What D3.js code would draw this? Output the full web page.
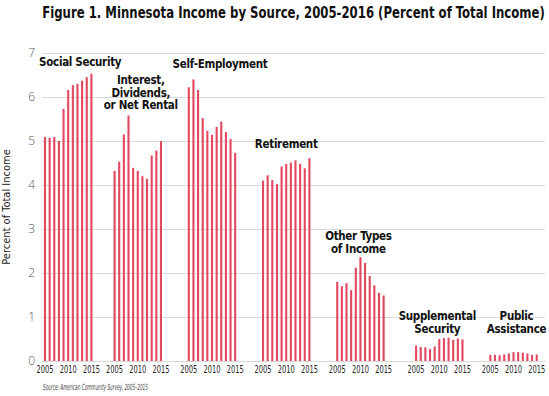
<!DOCTYPE html>
<html>
<head>
<meta charset="utf-8">
<script src="https://cdn.jsdelivr.net/npm/d3@7"></script>
<style>
  html, body { margin: 0; padding: 0; background: #fff; }
  svg { display: block; }
  .narrow { font-family: "Liberation Sans Narrow", "DejaVu Sans Condensed", "Arial Narrow", sans-serif; }
</style>
</head>
<body>
<svg id="chart" width="549" height="396"></svg>
<script>
// ---------------- DATA ----------------
const title = "Figure 1. Minnesota Income by Source, 2005-2016 (Percent of Total Income)";
const yAxisTitle = "Percent of Total Income";
const sourceNote = "Source: American Community Survey, 2005\u20132015";
const years = [2005, 2006, 2007, 2008, 2009, 2010, 2011, 2012, 2013, 2014, 2015];
const yearTickLabels = [2005, 2010, 2015];
const yTicks = [0, 1, 2, 3, 4, 5, 6, 7];
const categories = ["Social Security", "Interest, Dividends, or Net Rental", "Self-Employment",
  "Retirement", "Other Types of Income", "Supplemental Security", "Public Assistance"];
const categoryLabelLines = [["Social Security"], ["Interest,", "Dividends,", "or Net Rental"],
  ["Self-Employment"], ["Retirement"], ["Other Types", "of Income"],
  ["Supplemental", "Security"], ["Public", "Assistance"]];
const socialSecurity = [5.09, 5.07, 5.09, 5.00, 5.73, 6.16, 6.27, 6.30, 6.37, 6.45, 6.53];
const interestDividends = [4.32, 4.53, 5.15, 5.58, 4.39, 4.32, 4.20, 4.14, 4.67, 4.78, 5.00];
const selfEmployment = [6.22, 6.40, 6.16, 5.52, 5.23, 5.14, 5.32, 5.44, 5.20, 5.05, 4.73];
const retirement = [4.10, 4.22, 4.11, 4.02, 4.42, 4.48, 4.51, 4.56, 4.48, 4.38, 4.61];
const otherTypes = [1.80, 1.70, 1.77, 1.61, 2.12, 2.36, 2.23, 1.93, 1.72, 1.55, 1.49];
const supplementalSecurity = [0.35, 0.32, 0.31, 0.27, 0.33, 0.50, 0.52, 0.53, 0.48, 0.51, 0.49];
const publicAssistance = [0.14, 0.14, 0.13, 0.15, 0.17, 0.20, 0.20, 0.19, 0.17, 0.14, 0.15];
const seriesValues = [socialSecurity, interestDividends, selfEmployment, retirement,
  otherTypes, supplementalSecurity, publicAssistance];

// ---------------- LAYOUT ----------------
const barColor = "#e2485f";
const startStep = [0, 15, 16, 16, 16, 17, 16];   // slot distance between group starts
const groupStart = [];
startStep.reduce((acc, s) => { const v = acc + s; groupStart.push(v); return v; }, 0);
const totalSlots = groupStart[groupStart.length - 1] + years.length - 1;

const labelLayout = [ // dx from group centre (px), first-line baseline (value units)
  { dx: 12, v: 6.70 }, { dx: 3, v: 6.29 }, { dx: 8, v: 6.65 }, { dx: 0, v: 4.83 },
  { dx: -2, v: 2.74 }, { dx: -2, v: 0.925 }, { dx: 3, v: 0.925 }
];

const x = d3.scaleLinear().domain([0, totalSlots]).range([45, 536.7]);
const y = d3.scaleLinear().domain([0, 7]).range([361, 53]);
const barW = 2.1;

const svg = d3.select("#chart");

// horizontally condense a text to a target width (keeps it real text)
function condense(sel, px, py, targetW) {
  sel.each(function() {
    const len = this.getComputedTextLength();
    const sx = len > 0 ? Math.min(1, targetW / len) : 1;
    d3.select(this).attr("x", 0).attr("y", 0)
      .attr("transform", `translate(${px},${py}) scale(${sx},1)`);
  });
}

// title
svg.append("text").attr("class", "narrow")
  .attr("text-anchor", "middle")
  .attr("font-size", 15).attr("font-weight", "bold").attr("fill", "#111")
  .text(title)
  .call(condense, 293.5, 18, 503);

// gridlines + y tick labels
const yAxis = d3.axisLeft(y).tickValues(yTicks).tickFormat(d3.format("d"))
  .tickSize(-(545 - 42)).tickPadding(7);
const gy = svg.append("g").attr("transform", "translate(42,0)").call(yAxis);
gy.select(".domain").remove();
gy.selectAll(".tick line").attr("stroke", "#d9d9d9").attr("stroke-width", 1);
gy.selectAll(".tick text").attr("font-family", "'Open Sans', sans-serif").attr("font-weight", 300)
  .attr("font-size", 12).attr("fill", "#555").attr("dy", "0.28em");

// y axis title
svg.append("text").attr("class", "narrow")
  .attr("transform", "translate(10," + y(3.5) + ") rotate(-90)")
  .attr("text-anchor", "middle").attr("font-size", 11).attr("fill", "#222")
  .text(yAxisTitle);

// bars
const groupsG = svg.selectAll("g.group").data(categories).join("g").attr("class", "group");
groupsG.each(function(cat, gi) {
  const g = d3.select(this);
  g.selectAll("rect").data(seriesValues[gi]).join("rect")
    .attr("x", (d, i) => x(groupStart[gi] + i) - barW / 2)
    .attr("width", barW)
    .attr("y", d => y(d))
    .attr("height", d => y(0) - y(d))
    .attr("fill", barColor);

  // year labels
  g.selectAll("text.yr").data(yearTickLabels).join("text").attr("class", "yr narrow")
    .attr("text-anchor", "middle")
    .attr("font-size", 10).attr("fill", "#222")
    .text(d => d)
    .each(function(d) {
      d3.select(this).call(condense, x(groupStart[gi] + years.indexOf(d)), 373, 17);
    });

  // category label
  const cx = (x(groupStart[gi]) + x(groupStart[gi] + years.length - 1)) / 2 + labelLayout[gi].dx;
  const lines = categoryLabelLines[gi];
  g.selectAll("text.cat").data(lines).join("text").attr("class", "cat narrow")
    .attr("x", cx).attr("y", (d, i) => y(labelLayout[gi].v) + i * 12.5)
    .attr("text-anchor", "middle").attr("font-size", 11.5).attr("font-weight", "bold").attr("fill", "#111")
    .attr("letter-spacing", -0.3)
    .text(d => d);
});

// source
svg.append("text").attr("class", "narrow")
  .attr("font-size", 8.5).attr("font-style", "italic").attr("fill", "#444")
  .text(sourceNote)
  .call(condense, 43, 390, 105);
</script>
</body>
</html>
